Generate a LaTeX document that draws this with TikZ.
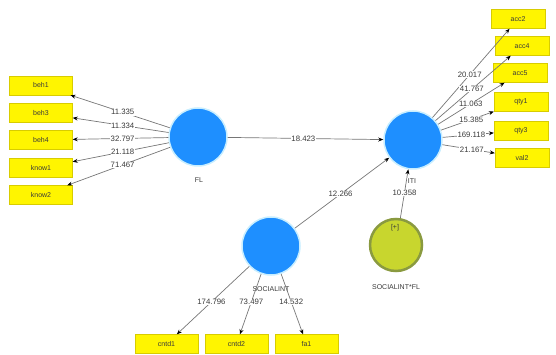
\documentclass[tikz,border=0pt]{standalone}
\usepackage{fontspec}
\setmainfont{Liberation Sans}
\usetikzlibrary{arrows.meta,calc}
\definecolor{boxyellow}{HTML}{FFF500}
\definecolor{boxborder}{HTML}{D8CC00}
\definecolor{cblue}{HTML}{1E8FFF}
\definecolor{glow}{HTML}{C8EEFF}
\definecolor{modfill}{HTML}{C8D62E}
\definecolor{modborder}{HTML}{8A9A40}
\definecolor{linegray}{HTML}{767676}
\definecolor{txt}{HTML}{3A3A3A}
\begin{document}
\begin{tikzpicture}[x=1pt,y=-1pt,
 ind/.style={draw=boxborder, fill=boxyellow, minimum width=63pt, minimum height=19pt, inner sep=0pt, font=\fontsize{7}{8}\selectfont, text=txt},
 rind/.style={ind, minimum width=54pt},
 lv/.style={circle, fill=cblue, draw=glow, line width=1.5pt, minimum size=58pt, inner sep=0pt},
 modc/.style={circle, fill=modfill, draw=modborder, line width=2.5pt, minimum size=52pt, inner sep=0pt},
 ld/.style={draw=linegray, line width=0.7pt, -{Stealth[length=5pt,width=4pt,color=black]}},
 val/.style={fill=white, inner sep=0.5pt, font=\fontsize{7.8}{8}\selectfont, text=txt},
 lname/.style={font=\fontsize{7}{8}\selectfont, text=txt}]
\useasboundingbox (0,0) rectangle (556,355);
% latent variables
\node[lv] (fl) at (198,137) {};
\node[lv] (iti) at (413,140) {};
\node[lv] (si) at (271,246) {};
\node[modc] (mod) at (396,245) {};
% indicators left
\node[ind] (beh1) at (41,85.5) {beh1};
\node[ind] (beh3) at (41,113) {beh3};
\node[ind] (beh4) at (41,140) {beh4};
\node[ind] (know1) at (41,168) {know1};
\node[ind] (know2) at (41,195) {know2};
% indicators right
\node[rind] (acc2) at (518,19) {acc2};
\node[rind] (acc4) at (522,46) {acc4};
\node[rind] (acc5) at (520,73) {acc5};
\node[rind] (qty1) at (521,102) {qty1};
\node[rind] (qty3) at (521,130.5) {qty3};
\node[rind] (val2) at (522,157.5) {val2};
% indicators bottom
\node[ind] (cntd1) at (166.5,344) {cntd1};
\node[ind] (cntd2) at (236.5,344) {cntd2};
\node[ind] (fa1) at (306.5,344) {fa1};
% names
\node[lname] (flname) at (199,180) {FL};
\node[lname] (siname) at (271,289) {SOCIALINT};
\node[lname] (modname) at (396,287) {SOCIALINT*FL};
\node[lname] (plus) at (395,228) {[+]};
% loadings FL
\foreach \b in {beh1,beh3,beh4,know1,know2}{
  \draw[ld] (fl) -- (\b);
}
% loadings ITI
\foreach \b in {acc2,acc4,acc5,qty1,qty3,val2}{
  \draw[ld] (iti) -- (\b);
}
% loadings SOCIALINT
\foreach \b in {cntd1,cntd2,fa1}{
  \draw[ld] (si) -- (\b);
}
% paths
\draw[ld] (fl) -- (iti);
\draw[ld] (si) -- (iti);
\draw[ld] (mod) -- (iti);
% value labels
\foreach \b/\v in {beh1/11.335,beh3/11.334,beh4/32.797,know1/21.118,know2/71.467}{
  \node[val] at ($(fl)!0.48!(\b)$) {\v};
}
\foreach \b/\v in {acc2/20.017,acc4/41.767,acc5/11.063,qty1/15.385,qty3/169.118,val2/21.167}{
  \node[val] at ($(iti)!0.54!(\b)$) {\v};
}
\foreach \b/\v in {cntd1/174.796,cntd2/73.497,fa1/14.532}{
  \node[val] at ($(si)!0.57!(\b)$) {\v};
}
\node[val] (p1) at ($(fl)!0.49!(iti)$) {18.423};
\node[val] (p2) at ($(si)!0.49!(iti)$) {12.266};
\node[val] (p3) at ($(mod)!0.50!(iti)$) {10.358};
\node[lname, fill=white, inner sep=0.5pt] (itiname) at (412,181) {ITI};
\end{tikzpicture}
\end{document}
